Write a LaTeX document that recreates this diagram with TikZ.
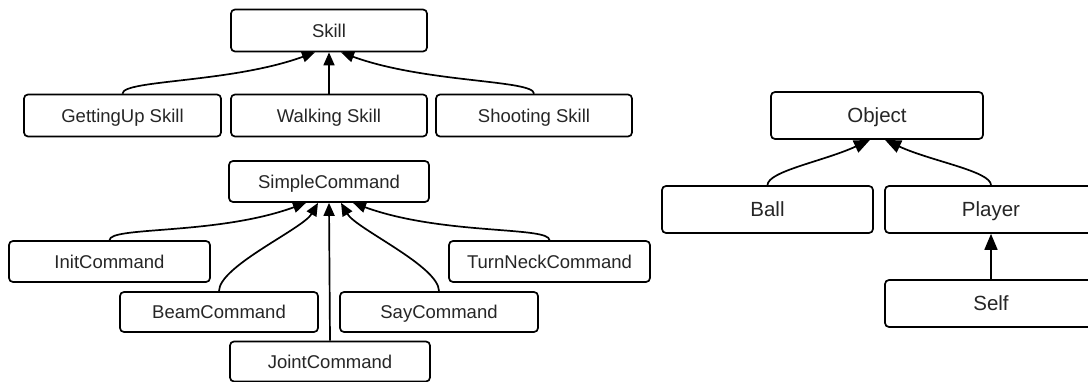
\documentclass[tikz,border=0pt]{standalone}
\usepackage{fontspec}
\setmainfont{Liberation Sans}
\usetikzlibrary{arrows.meta}
\begin{document}
\begin{tikzpicture}[x=1pt,y=1pt,
  box/.style={draw, rounded corners=4pt, line width=1.7pt, minimum width=198pt, minimum height=42pt, inner sep=0pt, text height=13.2pt, text depth=0pt, text=black!85, font=\fontsize{18.5}{20}\selectfont},
  bigbox/.style={box, minimum width=212pt, minimum height=47pt, text height=14.7pt, font=\fontsize{20.5}{22}\selectfont},
  inh/.style={line width=1.7pt, -{Triangle[length=13pt,width=11pt]}},
  biginh/.style={line width=1.7pt, -{Triangle[length=16pt,width=13pt]}},
  shallowL/.style={out=90, in=200, out distance=14pt, in distance=90pt},
  shallowR/.style={out=90, in=-20, out distance=14pt, in distance=90pt},
  steepL/.style={out=90, in=240, out distance=25pt, in distance=30pt},
  steepR/.style={out=90, in=-60, out distance=25pt, in distance=30pt},
]
\fill[white] (0,0) rectangle (1088,-382);
\clip (0,0) rectangle (1088,-382);
% Skill hierarchy
\node[box, minimum width=196pt] (skill) at (329,-30.5) {Skill};
\node[box, minimum width=197pt] (gu) at (122.5,-115.5) {GettingUp Skill};
\node[box, minimum width=196pt] (walk) at (329,-115.5) {Walking Skill};
\node[box, minimum width=196pt] (shoot) at (534,-115.5) {Shooting Skill};
\coordinate (sk1) at ([xshift=-14pt]skill.south);
\coordinate (sk3) at ([xshift=12pt]skill.south);
\draw[inh] (gu.north) to[shallowL] (sk1);
\draw[inh] (walk.north) -- (skill.south);
\draw[inh] (shoot.north) to[shallowR] (sk3);
% SimpleCommand hierarchy
\node[box, minimum width=200pt, minimum height=41pt] (simple) at (329,-181.5) {SimpleCommand};
\node[box, minimum width=201pt, minimum height=41pt] (init) at (109.5,-261.5) {InitCommand};
\node[box, minimum width=201pt, minimum height=41pt] (turn) at (549.5,-261.5) {TurnNeckCommand};
\node[box, minimum width=198pt, minimum height=40pt] (beam) at (219,-312) {BeamCommand};
\node[box, minimum width=198pt, minimum height=40pt] (say) at (439,-312) {SayCommand};
\node[box, minimum width=200pt, minimum height=40pt] (joint) at (330,-361.5) {JointCommand};
\coordinate (sc1) at ([xshift=-23pt]simple.south);
\coordinate (sc2) at ([xshift=-11pt]simple.south);
\coordinate (sc4) at ([xshift=12pt]simple.south);
\coordinate (sc5) at ([xshift=24pt]simple.south);
\draw[inh] (init.north) to[shallowL, in distance=95pt] (sc1);
\draw[inh] (beam.north) to[steepL] (sc2);
\draw[inh] (joint.north) -- (simple.south);
\draw[inh] (say.north) to[steepR] (sc4);
\draw[inh] (turn.north) to[shallowR, in distance=95pt] (sc5);
% Object hierarchy
\node[bigbox] (object) at (877,-115.5) {Object};
\node[bigbox, minimum width=211pt] (ball) at (767.5,-209.5) {Ball};
\node[bigbox] (player) at (991,-209.5) {Player};
\node[bigbox] (self) at (991,-303.5) {Self};
\coordinate (ob1) at ([xshift=-7pt]object.south);
\coordinate (ob2) at ([xshift=8pt]object.south);
\draw[biginh] (ball.north) to[out=90, in=205, out distance=14pt, in distance=50pt] (ob1);
\draw[biginh] (player.north) to[out=90, in=-25, out distance=14pt, in distance=50pt] (ob2);
\draw[biginh] (self.north) -- (player.south);
\end{tikzpicture}
\end{document}
